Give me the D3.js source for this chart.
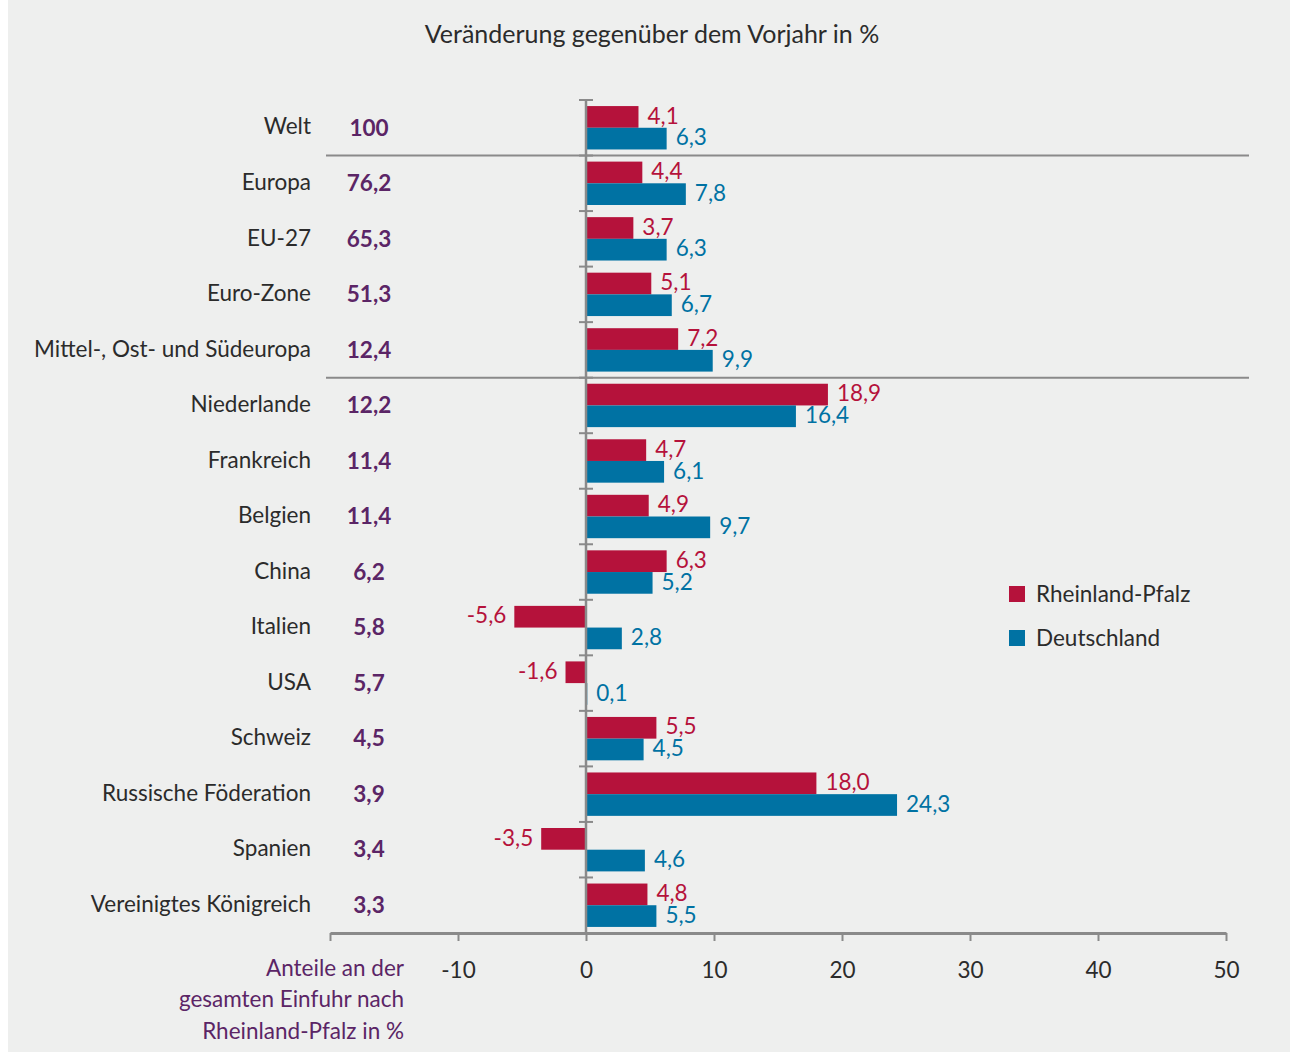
<!DOCTYPE html>
<html>
<head>
<meta charset="utf-8">
<script src="https://cdn.jsdelivr.net/npm/d3@7"></script>
<style>
  body { margin: 0; background: #fff; }
  text { font-family: Lato, "Open Sans", sans-serif; }
</style>
</head>
<body>
<script>
// data
var categories = ["Welt", "Europa", "EU-27", "Euro-Zone", "Mittel-, Ost- und Südeuropa",
  "Niederlande", "Frankreich", "Belgien", "China", "Italien", "USA", "Schweiz",
  "Russische Föderation", "Spanien", "Vereinigtes Königreich"];
var shares = [100, 76.2, 65.3, 51.3, 12.4, 12.2, 11.4, 11.4, 6.2, 5.8, 5.7, 4.5, 3.9, 3.4, 3.3];
var rlp = [4.1, 4.4, 3.7, 5.1, 7.2, 18.9, 4.7, 4.9, 6.3, -5.6, -1.6, 5.5, 18.0, -3.5, 4.8];
var de = [6.3, 7.8, 6.3, 6.7, 9.9, 16.4, 6.1, 9.7, 5.2, 2.8, 0.1, 4.5, 24.3, 4.6, 5.5];
var seriesNames = ["Rheinland-Pfalz", "Deutschland"];
var xTicks = [-20, -10, 0, 10, 20, 30, 40, 50];
var separatorsAfter = [0, 4];

var colors = ["#b5123b", "#0072a3"];
var gray = "#8a8a8a";
var purple = "#5b2566";
var fs = 22.5;

var W = 1290, H = 1055;

var locale = d3.formatLocale({decimal: ",", thousands: ".", grouping: [3], currency: ["", " €"], minus: "-"});
var fmt1 = locale.format(".1f");

var svg = d3.select("body").append("svg")
  .attr("width", W)
  .attr("height", H);

// background panel
svg.append("rect")
  .attr("x", 8).attr("y", 0)
  .attr("width", W - 8).attr("height", H - 3)
  .attr("fill", "#eeefee");

var x = d3.scaleLinear()
  .domain([-20, 50])
  .range([330, 1226]);

var y = d3.scaleBand()
  .domain(categories)
  .range([100, 933]);

var inner = d3.scaleBand()
  .domain([0, 1])
  .range([0, y.bandwidth()])
  .paddingOuter(0.28)
  .paddingInner(0);

// title
svg.append("text")
  .attr("x", 652).attr("y", 37)
  .attr("text-anchor", "middle")
  .attr("dominant-baseline", "middle")
  .attr("font-size", 25)
  .attr("fill", "#2b2b2b")
  .text("Veränderung gegenüber dem Vorjahr in %");

// separator lines
svg.selectAll(".sep")
  .data(separatorsAfter)
  .enter().append("line")
  .attr("x1", 326).attr("x2", 1249)
  .attr("y1", d => y(categories[d]) + y.bandwidth())
  .attr("y2", d => y(categories[d]) + y.bandwidth())
  .attr("stroke", gray).attr("stroke-width", 2);

// bars
var groups = svg.selectAll(".grp")
  .data(categories)
  .enter().append("g")
  .attr("transform", d => "translate(0," + y(d) + ")");

[rlp, de].forEach(function(series, s) {
  groups.append("rect")
    .attr("x", (d, i) => x(Math.min(0, series[i])))
    .attr("y", inner(s))
    .attr("width", (d, i) => Math.abs(x(series[i]) - x(0)))
    .attr("height", inner.bandwidth())
    .attr("fill", colors[s]);

  groups.append("text")
    .attr("x", (d, i) => series[i] < 0 ? x(series[i]) - 8 : x(series[i]) + 9)
    .attr("y", inner(s) + inner.bandwidth() / 2 + 1)
    .attr("text-anchor", (d, i) => series[i] < 0 ? "end" : "start")
    .attr("dominant-baseline", "middle")
    .attr("font-size", fs)
    .attr("fill", colors[s])
    .text((d, i) => fmt1(series[i]));
});

// category labels
svg.selectAll(".cat")
  .data(categories)
  .enter().append("text")
  .attr("x", 311)
  .attr("y", d => y(d) + y.bandwidth() / 2 + 1)
  .attr("text-anchor", "end")
  .attr("dominant-baseline", "middle")
  .attr("font-size", fs)
  .attr("fill", "#2b2b2b")
  .text(d => d);

// share values
svg.selectAll(".share")
  .data(categories)
  .enter().append("text")
  .attr("x", 369)
  .attr("y", d => y(d) + y.bandwidth() / 2 + 2)
  .attr("text-anchor", "middle")
  .attr("dominant-baseline", "middle")
  .attr("font-size", fs)
  .attr("font-weight", "bold")
  .attr("fill", purple)
  .text((d, i) => shares[i] === 100 ? "100" : fmt1(shares[i]));

// vertical zero axis with category ticks
svg.append("line")
  .attr("x1", x(0)).attr("x2", x(0))
  .attr("y1", 100).attr("y2", 933)
  .attr("stroke", gray).attr("stroke-width", 2.5);
svg.selectAll(".ytick")
  .data(categories)
  .enter().append("line")
  .attr("x1", x(0) - 7).attr("x2", x(0) + 7)
  .attr("y1", d => y(d)).attr("y2", d => y(d))
  .attr("stroke", gray).attr("stroke-width", 2);

// bottom axis
var xAxis = d3.axisBottom(x)
  .tickValues(xTicks)
  .tickSize(8)
  .tickPadding(21)
  .tickSizeOuter(0)
  .tickFormat(d => d === -20 ? "" : locale.format("d")(d));

var gx = svg.append("g")
  .attr("transform", "translate(0,933)")
  .call(xAxis);
gx.select(".domain").attr("stroke", gray).attr("stroke-width", 3);
gx.selectAll(".tick line").attr("stroke", gray).attr("stroke-width", 2);
gx.selectAll(".tick text")
  .attr("font-size", fs)
  .attr("font-family", "Lato, 'Open Sans', sans-serif")
  .attr("fill", "#2b2b2b");

// note under the share column
var note = ["Anteile an der", "gesamten Einfuhr nach", "Rheinland-Pfalz in %"];
svg.selectAll(".note")
  .data(note)
  .enter().append("text")
  .attr("x", 404)
  .attr("y", (d, i) => 970 + i * 31.5)
  .attr("text-anchor", "end")
  .attr("dominant-baseline", "middle")
  .attr("font-size", fs)
  .attr("fill", purple)
  .text(d => d);

// legend
var legend = svg.selectAll(".legend")
  .data(seriesNames)
  .enter().append("g")
  .attr("transform", (d, i) => "translate(1009," + (594 + i * 44) + ")");
legend.append("rect")
  .attr("x", 0).attr("y", -8)
  .attr("width", 16).attr("height", 16)
  .attr("fill", (d, i) => colors[i]);
legend.append("text")
  .attr("x", 27).attr("y", 2)
  .attr("dominant-baseline", "middle")
  .attr("font-size", fs)
  .attr("fill", "#2b2b2b")
  .text(d => d);
</script>
</body>
</html>
